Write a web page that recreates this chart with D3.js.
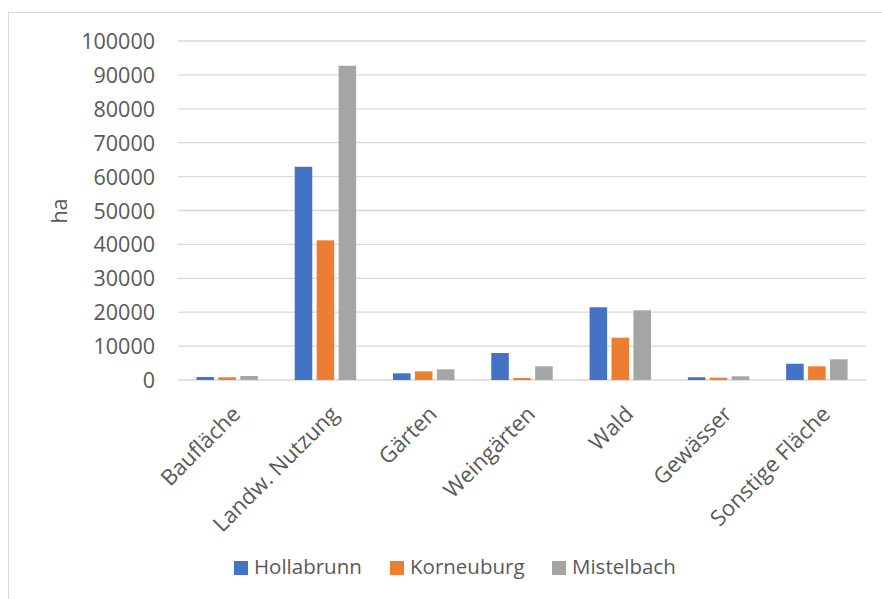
<!DOCTYPE html>
<html>
<head>
<meta charset="utf-8">
<script src="https://cdn.jsdelivr.net/npm/d3@7"></script>
<style>
  html, body { margin: 0; padding: 0; background: #fff; }
  svg { display: block; }
  text { font-family: "Open Sans", sans-serif; fill: #595959; }
</style>
</head>
<body>
<svg id="chart" width="882" height="599"></svg>
<script>
// Flächennutzung in ha je Bezirk
const categories = ["Baufläche", "Landw. Nutzung", "Gärten", "Weingärten", "Wald", "Gewässer", "Sonstige Fläche"];
const seriesNames = ["Hollabrunn", "Korneuburg", "Mistelbach"];
const hollabrunn = [890, 62900, 1970, 7960, 21450, 800, 4800];
const korneuburg = [800, 41200, 2560, 590, 12480, 680, 4040];
const mistelbach = [1180, 92700, 3150, 4040, 20560, 1090, 6100];
const yTicks = [0, 10000, 20000, 30000, 40000, 50000, 60000, 70000, 80000, 90000, 100000];
const colors = ["#4472C4", "#ED7D31", "#A5A5A5"];

const seriesValues = [hollabrunn, korneuburg, mistelbach];
const rows = categories.map((c, i) => ({
  category: c,
  values: seriesNames.map((s, j) => ({ series: s, value: seriesValues[j][i], color: colors[j] }))
}));

const svg = d3.select("#chart");

// chart area frame
svg.append("rect")
  .attr("x", 8.5).attr("y", 12.5)
  .attr("width", 900).attr("height", 700)
  .attr("fill", "#fff").attr("stroke", "#d9d9d9").attr("stroke-width", 1);

const plot = { left: 178, right: 866, top: 41, bottom: 380 };

const x0 = d3.scaleBand().domain(categories).range([plot.left, plot.right]).padding(0);
const groupWidth = x0.step() * 0.625;
const x1 = d3.scaleBand().domain(seriesNames).range([0, groupWidth]).paddingInner(0.2).paddingOuter(0);
const y = d3.scaleLinear().domain([0, 100000]).range([plot.bottom, plot.top]);

// gridlines
svg.append("g")
  .selectAll("line")
  .data(yTicks)
  .join("line")
  .attr("x1", plot.left).attr("x2", plot.right)
  .attr("y1", d => y(d)).attr("y2", d => y(d))
  .attr("stroke", "#d9d9d9").attr("stroke-width", 1.3);

// y axis labels
const yAxis = d3.axisLeft(y).tickValues(yTicks).tickSize(0).tickPadding(0).tickFormat(d3.format("d"));
const yg = svg.append("g").attr("transform", `translate(155,0)`).call(yAxis);
yg.select(".domain").remove();
yg.selectAll("text")
  .attr("font-family", "Open Sans, sans-serif")
  .attr("font-size", 21.5)
  .attr("fill", "#595959")
  .attr("dy", "0.35em");

// axis title
svg.append("text")
  .attr("transform", "translate(67,211) rotate(-90)")
  .attr("text-anchor", "middle")
  .attr("font-size", 21.5)
  .text("ha");

// bars
const groups = svg.append("g")
  .selectAll("g")
  .data(rows)
  .join("g")
  .attr("transform", d => `translate(${x0(d.category) + (x0.step() - groupWidth) / 2},0)`);

groups.selectAll("rect")
  .data(d => d.values)
  .join("rect")
  .attr("x", d => x1(d.series))
  .attr("width", x1.bandwidth())
  .attr("y", d => y(d.value))
  .attr("height", d => y(0) - y(d.value))
  .attr("fill", d => d.color);

// category labels
const xAxis = d3.axisBottom(x0).tickSize(0).tickPadding(0);
const xg = svg.append("g").attr("transform", `translate(0,0)`).call(xAxis);
xg.select(".domain").remove();
xg.selectAll(".tick").attr("transform", d => `translate(${x0(d) + x0.bandwidth() / 2 + 3},404)`);
xg.selectAll("text")
  .attr("font-family", "Open Sans, sans-serif")
  .attr("font-size", 22)
  .attr("fill", "#595959")
  .attr("text-anchor", "end")
  .attr("y", 0)
  .attr("dy", "0.74em")
  .attr("transform", "rotate(-45)");

// legend
const legendItems = [
  { name: seriesNames[0], color: colors[0], x: 234 },
  { name: seriesNames[1], color: colors[1], x: 390 },
  { name: seriesNames[2], color: colors[2], x: 552 }
];
const legend = svg.append("g")
  .selectAll("g")
  .data(legendItems)
  .join("g")
  .attr("transform", d => `translate(${d.x},0)`);
legend.append("rect")
  .attr("x", 0).attr("y", 561)
  .attr("width", 14).attr("height", 14)
  .attr("fill", d => d.color);
legend.append("text")
  .attr("x", 20).attr("y", 574)
  .attr("font-size", 20.5)
  .text(d => d.name);
</script>
</body>
</html>
